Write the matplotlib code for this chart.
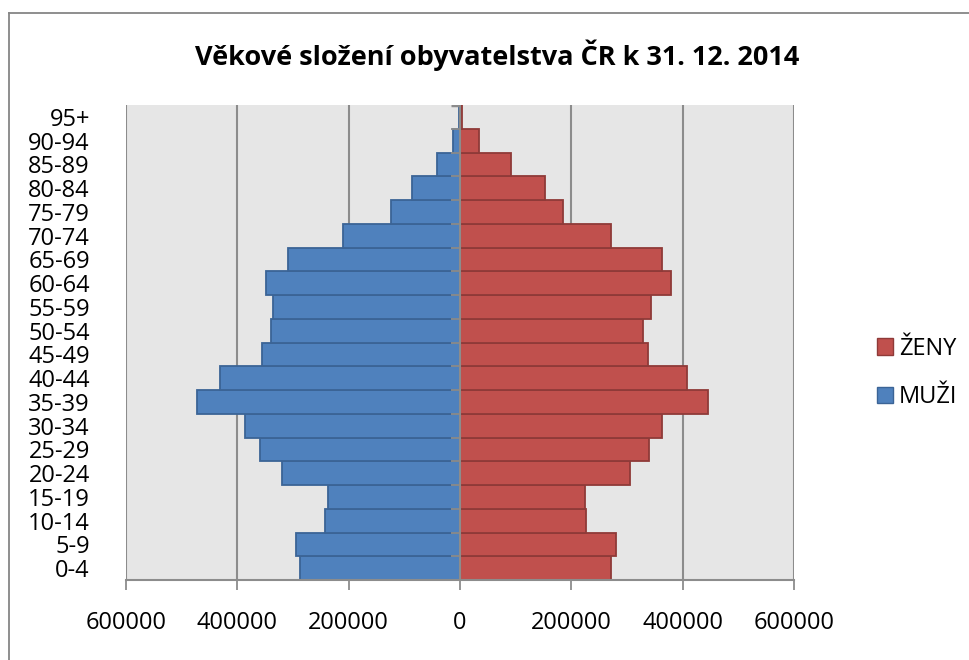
import numpy as np
import matplotlib
matplotlib.use("Agg")
import matplotlib.pyplot as plt
from matplotlib.lines import Line2D
from matplotlib.patches import Patch

plt.rcParams['font.family'] = ['Open Sans', 'DejaVu Sans']

# age groups, bottom to top
age_groups = ["0-4", "5-9", "10-14", "15-19", "20-24", "25-29", "30-34",
              "35-39", "40-44", "45-49", "50-54", "55-59", "60-64", "65-69",
              "70-74", "75-79", "80-84", "85-89", "90-94", "95+"]

# values
muzi = [286600, 294400, 241700, 237500, 320100, 358400, 387100,
        472100, 431400, 354800, 339300, 336300, 349400, 308800,
        210600, 123300, 85600, 40700, 12000, 1500]
zeny = [271600, 279400, 226800, 225000, 305200, 339300, 362000,
        445200, 406900, 337500, 329000, 343400, 378200, 362000,
        271600, 185500, 152600, 91000, 33500, 3500]

x_ticks = [-600000, -400000, -200000, 0, 200000, 400000, 600000]

title = "Věkové složení obyvatelstva ČR k 31. 12. 2014"

W, H = 970, 660
fig = plt.figure(figsize=(W / 100, H / 100), dpi=100)
ax = fig.add_axes([126 / W, (H - 580) / H, 668 / W, 475 / H])

grey = "#8C8C8C"
blue, blue_edge = "#4F81BD", "#3B6496"
red, red_edge = "#C0504D", "#8F3A38"

ypos = np.arange(len(age_groups))
ax.barh(ypos, -np.asarray(muzi), height=1.0, color=blue, edgecolor=blue_edge,
        linewidth=1.3, zorder=2)
ax.barh(ypos, zeny, height=1.0, color=red, edgecolor=red_edge,
        linewidth=1.3, zorder=2)

ax.set_facecolor("#E6E6E6")
ax.set_xlim(-600000, 600000)
ax.set_ylim(-0.5, len(age_groups) - 0.5)

ax.set_xticks(x_ticks)
ax.set_xticklabels([str(abs(v)) for v in x_ticks])
ax.set_yticks(ypos)
ax.set_yticklabels(age_groups)

ax.tick_params(axis="x", length=7, width=1.3, color=grey, labelsize=17, pad=15)
ax.tick_params(axis="y", length=0, labelsize=17, pad=26)

for v in x_ticks:
    ax.axvline(v, color=grey, lw=1.5, zorder=1)
# value axis at zero with its small ticks at category borders
ax.axvline(0, color=grey, lw=1.5, zorder=3)
ax.hlines(ypos[1:] - 0.5, -16000, 0, color=grey, lw=1.3, zorder=3)
ax.hlines(len(age_groups) - 0.5, -16000, 0, color=grey, lw=2.5, zorder=3)

for s in ["top", "right", "left"]:
    ax.spines[s].set_visible(False)
ax.spines["bottom"].set_color(grey)
ax.spines["bottom"].set_linewidth(1.5)

fig.text(497 / W, 1 - 55 / H, title, ha="center", va="center",
         fontsize=19.5, fontweight="bold")

handles = [Patch(facecolor=red, edgecolor=red_edge, label="ŽENY"),
           Patch(facecolor=blue, edgecolor=blue_edge, label="MUŽI")]
fig.legend(handles=handles, loc="center left",
           bbox_to_anchor=(865 / W, 1 - 373 / H), frameon=False,
           fontsize=17, handlelength=0.7, handleheight=0.7,
           handletextpad=0.25, labelspacing=1.05, borderpad=0)

# outer chart frame (only top and left edges are visible)
fig.add_artist(Line2D([9 / W, 1], [1 - 13 / H, 1 - 13 / H], color="#868686", lw=1.3))
fig.add_artist(Line2D([9 / W, 9 / W], [0, 1 - 13 / H], color="#868686", lw=1.3))

fig.savefig("out.png", dpi=100)
